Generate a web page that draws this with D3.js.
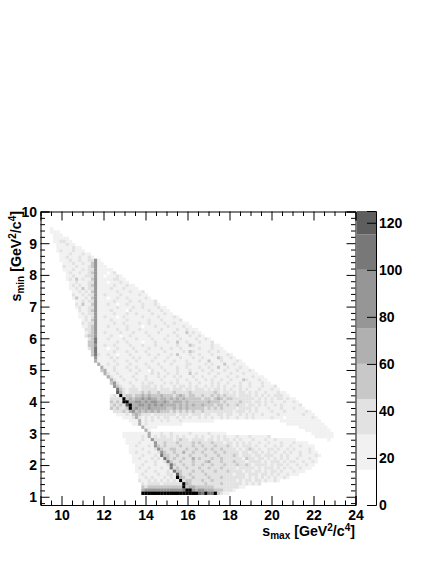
<!DOCTYPE html>
<html><head><meta charset="utf-8">
<script src="https://cdn.jsdelivr.net/npm/d3@7"></script>
<style>html,body{margin:0;padding:0;background:#fff}svg{display:block}
text{font-family:"Liberation Sans",Arial,sans-serif;font-weight:bold;fill:#000}</style></head>
<body><svg id="c" width="436" height="564"></svg>
<script>
const xDomain=[9,24], yDomain=[0.74,10], zDomain=[0,125];
const xMajor=[10,12,14,16,18,20,22,24];
const yMajor=[1,2,3,4,5,6,7,8,9,10];
const zMajor=[0,20,40,60,80,100,120];
const xBinWidth=0.15, yBinHeight=0.0993, firstRow=5;
const levelCounts=[0,20,35,50,68,85,105,120,140];
const zBoundaries=[15,30,45,60,75,100,115,126];
const zColors=["#ffffff","#f1f1f1","#e2e2e2","#c8c8c8","#b0b0b0","#969696","#787878","#5e5e5e","#000000"];
// each string is one row of bins, from y=9.5 downward; digit = count level, grouped by ten bins
const binRows=[
"...1",
"...111",
"....111",
"....11111",
"....112211",
".....11121 1",
".....11111 211",
".....12111 2111",
"......1112 111211",
"......1121 1121121",
"......1112 112112251",
".......111 2112113511",
".......211 1211123511 1",
".......111 2112122511 111",
"........12 1121123511 1.12",
"........11 2111222511 .11121",
"........12 1312113511 1112211",
".........1 1211122511 1.111211",
".........1 2121123511 1112111211",
".........1 1213122511 1121112111 1",
".......... 1121213511 1111211121 112",
".......... 2112122511 2111121111 1211",
".......... 1311213511 1.11211211 11121",
".......... .112122511 1112111121 1211112",
".......... .213113511 1211.11211 11211121",
".......... .121122511 1111211112 1121111211",
".......... ..21123511 1121111.21 1111211121 1",
".......... ..12122511 1112111211 2111121112 11",
".......... ..11212511 2111.12111 1121111211 1121",
".......... ...1213511 1121111211 1111211121 11112",
".......... ...2122511 1112112111 1211211112 1121111",
".......... ...1123511 1211111211 11.1112111 21111211",
".......... ....223511 1111211211 1211111121 1112112111",
".......... ....123511 2111121112 1112111211 1121113121 1",
".......... ....233511 11211.1121 1111211111 2112111211 21",
".......... .....23611 1211112111 2111121112 1111211112 1121",
".......... .....33611 1111211211 11.1112111 2113112111 21112",
".......... .....33511 2112111121 1121112111 1112111321 1111211",
".......... .....23611 1.11211112 1111211121 1211211111 21112111",
".......... ......3611 1112111211 2112111112 1111121321 111211211",
".......... ......3621 1211.11121 1111211211 1213111211 2111211112 1",
".......... .......511 1121211112 1211112111 2111211121 1211113211 21",
".......... .......411 1112111211 2111121112 1121112111 2113111211 1121",
".......... ........41 1211211121 1112111211 1211112211 1121211131 12111",
".......... .........4 1112111211 2111211121 1112112111 2112113112 111211",
".......... .........3 4112111121 1211.21112 1112111211 1211211121 11211121",
".......... .......... 4211211111 2111121211 2112111312 1112112111 211121111",
".......... .......... .421121112 1112111212 1121211121 1211121112 1121111211 1",
".......... .......... ..42112111 2112111121 1112112112 1121211211 2111321112 11",
".......... .......... ..35211121 1121221112 1212111211 2111212112 1112112111 211",
".......... .......... ...5321112 1122212121 1121221212 1121212121 1212112111 21112",
".......... .......... ....632122 2122222122 2122212212 2212122121 2112121112 111211",
".......... .......... ....742122 2232322322 2232222322 2222232122 1212212121 12111211",
".......... .......... ..12182332 3343433343 3323432332 2322323232 2212222121 212122211",
".......... .......... ..22228343 4454544344 3434343333 3233234323 3222222212 1212122121 1",
".......... .......... ..32328844 5545455445 4344434333 3334333232 2223222122 1212111211 21",
".......... .......... ..23232784 4554545454 4443434343 3433323323 2232212212 1211212111 112",
".......... .......... ..32322384 5444544444 3343434333 3323232322 2212222121 1121112111 2111",
".......... .......... ...2223245 3434343433 3232323232 2322222222 2122212121 1112111211 111121",
".......... .......... ....111213 4322212222 2221222122 2122112212 2112121211 2111121111 1112111",
".......... .......... ......1112 4212121212 2112121211 2121211212 1121121211 1112111.11 11111121",
".......... .......... ........11 1412121121 2111211111 11111..... .......... ......1111 111111111",
".......... .......... .........1 1412111111 11111..... .......... .......... ........11 1111111111",
".......... .......... .......... ..41111... .......... .......... .......... .......... ..11111111 1",
".......... .......... .......... ...41..... .......... .......... .......... .......... ....111111 11",
".......... .......... ......1111 1111411121 1211111211 111211111. .......... .......... ......1111 111",
".......... .......... ......1111 1121412122 1212121112 1211212121 1121112111 112....... .......111 111",
".......... .......... .......111 1121152222 2212322122 2212212122 1212111211 1211211111 1......... .1",
".......... .......... .......111 1211115223 2223222232 3222322212 2121212112 1121112111 21111",
".......... .......... ........11 2111215323 2222322232 2322232223 2121222121 1211212112 1121111",
".......... .......... ........11 1121112532 2332223223 2232322322 2212123212 1122121121 2111121",
".......... .......... ........11 2111211253 2232242232 2322232232 2221221221 2121211212 11211211",
".......... .......... .........1 1121112163 3223222322 2232223222 2321222122 1222112121 112111121",
".......... .......... .........1 1211121216 3232232242 3222322322 2222132212 2121212121 12111211",
".......... .......... .........1 1112112112 6322322232 2234222322 2322212222 1212221212 21121121",
".......... .......... .......... 1121112111 2632232232 2322322232 2232232122 2212122121 1211211",
".......... .......... .......... 1211211121 1623223222 3223222322 2212222212 1222121212 112111",
".......... .......... .......... 1112112111 2163322232 2322232223 2222122122 1212212111 2111",
".......... .......... .......... .121111211 2217322322 2232222222 2122212221 2212121121 11",
".......... .......... .......... .112121112 1218432232 2223222322 2222212121 212121121",
".......... .......... .......... .211212121 2121823322 2322322222 2212122122 121121",
".......... .......... .......... ..21222212 2222284322 2232222322 2222121212",
".......... .......... .......... ..32333333 3333383443 3333322222 22211",
".......... .......... .......... ..45555555 5555568854 5544433322 21",
".......... .......... .......... ..88888888 8888888888 7686683211"
];

const x=d3.scaleLinear().domain(xDomain).range([40.5,355.5]);
const y=d3.scaleLinear().domain(yDomain).range([505,211.5]);
const z=d3.scaleLinear().domain(zDomain).range([505,211]);
const color=d3.scaleThreshold().domain(zBoundaries).range(zColors);
const svg=d3.select("#c");

const cells=[];
binRows.forEach((row,r)=>{
  Array.from(row.replace(/ /g,"")).forEach((ch,i)=>{
    const level=+ch;
    if(ch!=="."&&level>0) cells.push({xLow:xDomain[0]+i*xBinWidth,yHigh:yDomain[1]-(firstRow+r)*yBinHeight,count:levelCounts[level]});
  });
});
svg.append("g").selectAll("rect").data(cells).join("rect")
  .attr("x",d=>x(d.xLow)).attr("y",d=>y(d.yHigh))
  .attr("width",d=>x(d.xLow+xBinWidth)-x(d.xLow)+0.2)
  .attr("height",d=>y(d.yHigh-yBinHeight)-y(d.yHigh)+0.2)
  .attr("fill",d=>color(d.count));

// colour bar
const edges=[0,...zBoundaries.slice(0,-1),zDomain[1]];
svg.append("g").selectAll("rect").data(d3.pairs(edges)).join("rect")
  .attr("x",357).attr("width",19)
  .attr("y",d=>z(d[1])).attr("height",d=>z(d[0])-z(d[1]))
  .attr("fill",d=>color(d[0]));

const majorLen=9, minorLen=4.5;
function sideAxis(gen,scale,transform,majors,minors,labels){
  const g=svg.append("g").attr("transform",transform);
  g.call(gen(scale).tickValues(minors).tickSize(-minorLen).tickFormat(""));
  g.selectAll(".domain").remove();
  const h=svg.append("g").attr("transform",transform);
  h.call(gen(scale).tickValues(majors).tickSize(-majorLen).tickPadding(labels?14:0).tickFormat(labels?d3.format("d"):""));
  h.select(".domain").attr("stroke","#000");
  h.selectAll("text").style("font-size","14px");
  return h;
}
const xMinor=d3.range(9,24.01,0.5).filter(v=>!xMajor.includes(v));
const yMinor=d3.range(0.8,10,0.2).map(v=>+v.toFixed(1)).filter(v=>!yMajor.includes(v));
const b=sideAxis(d3.axisBottom,x,"translate(0,505)",xMajor,xMinor,true);
b.selectAll("text").attr("dy",null).attr("y",14.5).attr("dominant-baseline","auto");
sideAxis(d3.axisTop,x,"translate(0,211.5)",xMajor,xMinor,false);
const l=sideAxis(d3.axisLeft,y,"translate(40.5,0)",yMajor,yMinor,true);
l.selectAll("text").attr("x",-3.5).attr("dy","0.35em");
sideAxis(d3.axisRight,y,"translate(355.5,0)",yMajor,yMinor,false);

// colour bar axis
const ca=svg.append("g").attr("transform","translate(376,0)");
ca.call(d3.axisRight(z).tickValues(zMajor).tickSize(-9).tickFormat(d3.format("d")));
ca.select(".domain").attr("stroke","#000");
ca.selectAll("text").attr("x",3).style("font-size","14px");

function title(t,main,sub,tail,sup1,mid,sup2,end){
  const small=10;
  t.style("font-size","14.2px");
  t.append("tspan").text(main);
  t.append("tspan").text(sub).attr("dy",3).style("font-size",small+"px");
  t.append("tspan").text(tail).attr("dy",-3);
  t.append("tspan").text(sup1).attr("dy",-5).style("font-size",small+"px");
  t.append("tspan").text(mid).attr("dy",5);
  t.append("tspan").text(sup2).attr("dy",-5).style("font-size",small+"px");
  t.append("tspan").text(end).attr("dy",5);
}
title(svg.append("text").attr("x",355).attr("y",536).attr("text-anchor","end"),"s","max"," [GeV","2","/c","4","]");
title(svg.append("text").attr("transform","translate(21,211) rotate(-90)").attr("text-anchor","end"),"s","min"," [GeV","2","/c","4","]");
</script></body></html>
